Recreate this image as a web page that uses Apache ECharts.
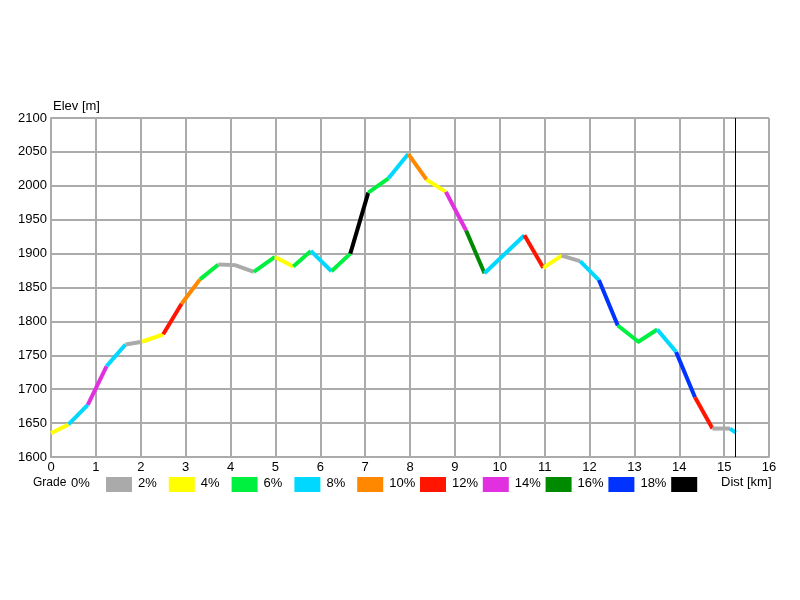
<!DOCTYPE html>
<html>
<head>
<meta charset="utf-8">
<script src="https://cdn.jsdelivr.net/npm/echarts@6/dist/echarts.min.js"></script>
<style>html,body{margin:0;padding:0;background:#fff}#c{width:800px;height:600px}</style>
</head>
<body>
<div id="c"></div>
<script>
// Track profile points: distance (km) and elevation (m)
const dist = [0, 0.39, 0.82, 1.24, 1.66, 2.03, 2.50, 2.91, 3.32, 3.73, 4.10, 4.52, 4.99, 5.40, 5.79, 6.25, 6.67, 7.07, 7.52, 7.96, 8.37, 8.80, 9.25, 9.66, 10.55, 10.97, 11.38, 11.79, 12.21, 12.63, 13.09, 13.51, 13.93, 14.35, 14.74, 15.13, 15.26];
const elev = [1635, 1648, 1677, 1734, 1766, 1770, 1781, 1826, 1862, 1884, 1883, 1873, 1895, 1881, 1904, 1874, 1900, 1990, 2011, 2047, 2009, 1991, 1934, 1871, 1927, 1879, 1897, 1889, 1861, 1794, 1770, 1788, 1755, 1688, 1642, 1642, 1636];
// Grade class of each segment (index into gradeColors)
const segClass = [1, 3, 6, 3, 0, 1, 5, 4, 2, 0, 0, 2, 1, 2, 3, 2, 9, 2, 3, 4, 1, 6, 7, 3, 5, 1, 0, 3, 8, 2, 2, 3, 8, 5, 0, 3];
// Legend grade labels and colours
const gradeLabels = ['0%', '2%', '4%', '6%', '8%', '10%', '12%', '14%', '16%', '18%'];
const gradeColors = ['#aaaaaa', '#ffff00', '#00f040', '#00d8ff', '#ff8800', '#ff1500', '#e030e0', '#008a00', '#0033ff', '#000000'];
const endMarker = 15.25;
const xTicks = {min: 0, max: 16, step: 1};
const yTicks = {min: 1600, max: 2100, step: 50};

const FONT = '"Liberation Sans", Arial, sans-serif';
const gridColor = '#ababab';

// group consecutive segments with the same class into polylines
const series = [];
let start = 0;
for (let i = 1; i <= segClass.length; i++) {
  if (i === segClass.length || segClass[i] !== segClass[start]) {
    const pts = [];
    for (let k = start; k <= i; k++) pts.push([dist[k], elev[k]]);
    series.push({
      type: 'line', data: pts, showSymbol: false, symbol: 'none', silent: true,
      lineStyle: {color: gradeColors[segClass[start]], width: 4, cap: 'butt', join: 'round'},
      z: 3
    });
    start = i;
  }
}
series.push({
  type: 'line', data: [], silent: true,
  markLine: {
    silent: true, symbol: 'none', label: {show: false},
    lineStyle: {color: '#000', width: 1, type: 'solid'},
    data: [{xAxis: endMarker}]
  }
});

const graphic = [];
graphic.push({type: 'text', left: 53, top: 100, style: {text: 'Elev [m]', font: '13px ' + FONT, fill: '#000'}});
graphic.push({type: 'text', left: 721, top: 476, style: {text: 'Dist [km]', font: '13px ' + FONT, fill: '#000'}});
graphic.push({type: 'text', left: 33, top: 477, style: {text: 'Grade', font: '12px ' + FONT, fill: '#000'}});
for (let i = 0; i < gradeLabels.length; i++) {
  const sx = 106 + 62.8 * i;
  const lx = i === 0 ? 71 : 106 + 62.8 * (i - 1) + 32;
  graphic.push({type: 'text', left: lx, top: 477, style: {text: gradeLabels[i], font: '13px ' + FONT, fill: '#000'}});
  graphic.push({type: 'rect', shape: {x: sx, y: 477, width: 26, height: 15}, style: {fill: gradeColors[i]}});
}

const chart = echarts.init(document.getElementById('c'), null, {renderer: 'canvas'});
chart.setOption({
  animation: false,
  backgroundColor: '#fff',
  grid: {left: 51, right: 31, top: 118, bottom: 143, containLabel: false},
  xAxis: {
    type: 'value', min: xTicks.min, max: xTicks.max, interval: xTicks.step,
    axisLine: {show: true, lineStyle: {color: gridColor, width: 2}},
    axisTick: {show: false},
    axisLabel: {color: '#000', fontFamily: FONT, fontSize: 13, margin: 4, formatter: v => String(v)},
    splitLine: {show: true, lineStyle: {color: gridColor, width: 2}}
  },
  yAxis: {
    type: 'value', min: yTicks.min, max: yTicks.max, interval: yTicks.step,
    axisLine: {show: true, lineStyle: {color: gridColor, width: 2}},
    axisTick: {show: false},
    axisLabel: {color: '#000', fontFamily: FONT, fontSize: 13, margin: 4, formatter: v => String(v)},
    splitLine: {show: true, lineStyle: {color: gridColor, width: 2}}
  },
  graphic: graphic,
  series: series
});
</script>
</body>
</html>
